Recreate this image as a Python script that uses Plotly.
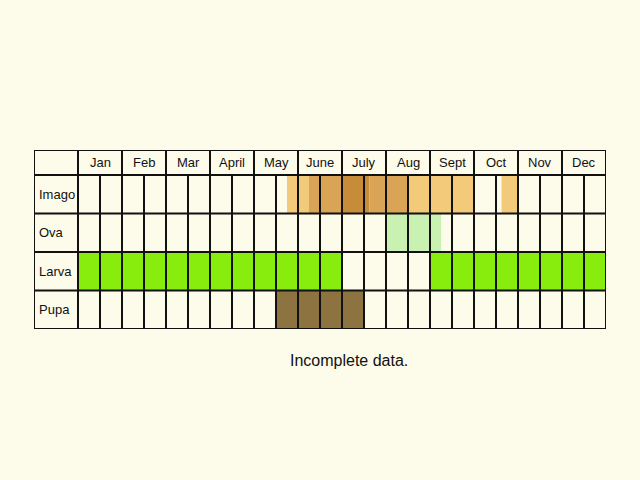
import plotly.graph_objects as go

# ---- data ----
months = ["Jan", "Feb", "Mar", "April", "May", "June", "July", "Aug", "Sept", "Oct", "Nov", "Dec"]
stages = ["Imago", "Ova", "Larva", "Pupa"]

# periods in month units (0 = start of Jan, 12 = end of Dec)
imago_start = [4.75, 5.25, 6.0, 6.625, 7.5, 9.625]
imago_end = [5.25, 6.0, 6.625, 7.5, 9.0, 10.0]
imago_level = ["light", "mid", "dark", "mid", "light", "light"]

ova_start = [7.0]
ova_end = [8.25]
ova_level = ["egg"]

larva_start = [0.0, 8.0]
larva_end = [6.0, 12.0]
larva_level = ["larva", "larva"]

pupa_start = [4.5]
pupa_end = [6.5]
pupa_level = ["pupa"]

note = "Incomplete data."

# ---- styles ----
colors = {
    "light": "#F2CA7A",
    "mid": "#D9A455",
    "dark": "#C68C3A",
    "egg": "#C9F1B1",
    "larva": "#88EC0C",
    "pupa": "#8C733F",
}
bg = "#FDFBEA"
line_col = "#111111"
lw = 2
header_h = 0.65

fig = go.Figure()

rows = [
    (imago_start, imago_end, imago_level),
    (ova_start, ova_end, ova_level),
    (larva_start, larva_end, larva_level),
    (pupa_start, pupa_end, pupa_level),
]
for r, (st, en, lv) in enumerate(rows):
    for s, e, l in zip(st, en, lv):
        fig.add_trace(go.Bar(
            orientation="h",
            y=[r + 0.5], x=[e - s], base=[s], width=1,
            marker=dict(color=colors[l], line=dict(width=0)),
            showlegend=False, hoverinfo="skip",
        ))

shapes = []
n_rows = len(stages)
# horizontal lines
for yv in [-header_h] + list(range(n_rows + 1)):
    shapes.append(dict(type="line", xref="x", yref="y", x0=-1, x1=12, y0=yv, y1=yv,
                       line=dict(color=line_col, width=lw), layer="above"))
# vertical month lines (full height)
for xv in [-1] + list(range(13)):
    shapes.append(dict(type="line", xref="x", yref="y", x0=xv, x1=xv, y0=-header_h, y1=n_rows,
                       line=dict(color=line_col, width=lw), layer="above"))
# half-month lines (body only)
for m in range(12):
    xv = m + 0.5
    shapes.append(dict(type="line", xref="x", yref="y", x0=xv, x1=xv, y0=0, y1=n_rows,
                       line=dict(color=line_col, width=lw), layer="above"))

annotations = []
for i, m in enumerate(months):
    annotations.append(dict(x=i + 0.5, y=-header_h / 2, xref="x", yref="y", text=m,
                            showarrow=False, font=dict(size=13, color="#111")))
for r, s in enumerate(stages):
    annotations.append(dict(x=-1, y=r + 0.5, xref="x", yref="y", text=s, xanchor="left",
                            xshift=3, showarrow=False, font=dict(size=13, color="#111")))
annotations.append(dict(x=0.551, y=-0.236, xref="paper", yref="paper", text=note,
                        showarrow=False, font=dict(size=16, color="#111")))

fig.update_layout(
    width=640, height=480,
    margin=dict(l=34, r=34, t=150, b=151, pad=0),
    paper_bgcolor=bg, plot_bgcolor=bg,
    barmode="overlay",
    xaxis=dict(range=[-1, 12], showgrid=False, zeroline=False, showticklabels=False,
               showline=False, fixedrange=True),
    yaxis=dict(range=[n_rows, -header_h], showgrid=False, zeroline=False, showticklabels=False,
               showline=False, fixedrange=True),
    shapes=shapes, annotations=annotations,
    font=dict(family="Liberation Sans, Arial, sans-serif"),
)

fig.write_html(
    "out.html",
    config={"displayModeBar": False},
    post_script="document.body.style.margin='0';document.body.style.background='#FDFBEA';",
)
